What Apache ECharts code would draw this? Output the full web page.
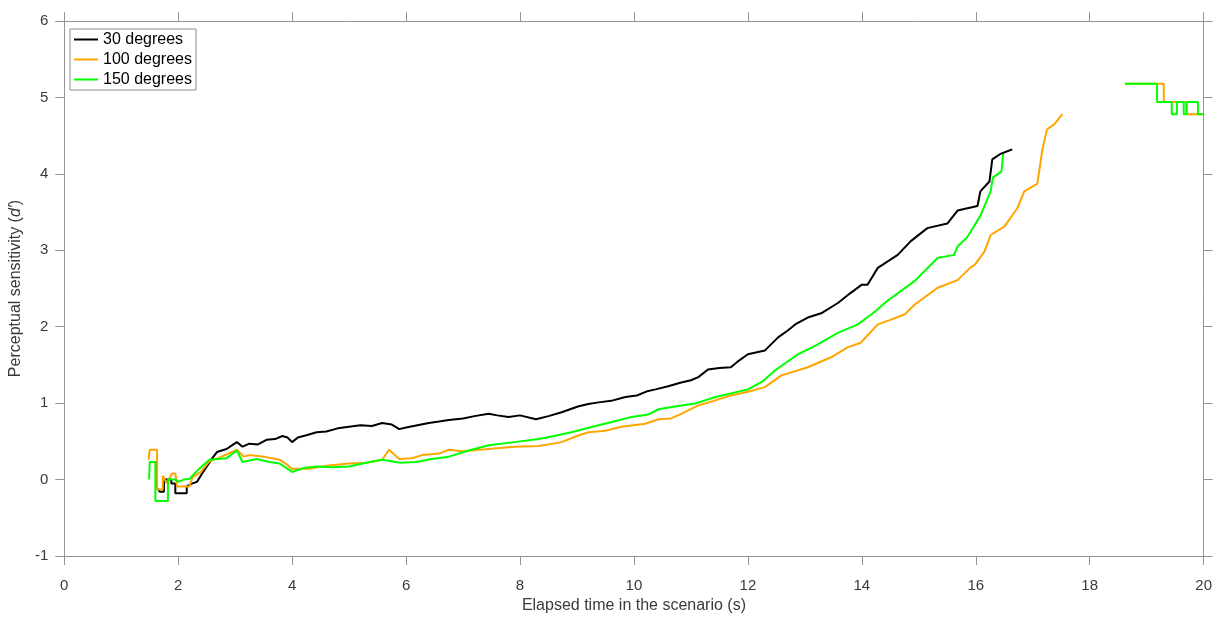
<!DOCTYPE html>
<html>
<head>
<meta charset="utf-8">
<script src="https://cdn.jsdelivr.net/npm/echarts@6/dist/echarts.min.js"></script>
<style>
  html, body { margin: 0; padding: 0; background: #fff; }
  #chart { width: 1215px; height: 619px; }
</style>
</head>
<body>
<div id="chart"></div>
<script>
// 30 degrees (black)
var t30 = [1.50,1.62,1.62,1.68,1.75,1.75,1.88,1.88,1.95,1.95,2.15,2.15,2.25,2.33,2.42,2.50,2.60,2.68,2.85,2.95,
  3.03,3.13,3.25,3.40,3.55,3.70,3.83,3.92,4.00,4.10,4.25,4.43,4.60,4.80,5.00,5.20,5.40,5.58,5.75,5.88,
  6.00,6.20,6.40,6.58,6.75,7.00,7.20,7.45,7.60,7.80,8.00,8.28,8.50,8.73,9.03,9.20,9.38,9.60,9.85,10.05,
  10.25,10.38,10.60,10.83,11.00,11.13,11.30,11.50,11.70,11.85,12.00,12.30,12.53,12.70,12.83,13.05,13.30,13.58,13.80,14.00,
  14.10,14.28,14.63,14.86,15.15,15.50,15.68,16.03,16.08,16.24,16.29,16.43,16.64];
var v30 = [0.23,0.23,-0.10,-0.16,-0.16,0.00,0.00,-0.05,-0.05,-0.18,-0.18,-0.09,-0.05,-0.03,0.08,0.17,0.28,0.36,0.40,0.45,
  0.49,0.43,0.47,0.46,0.52,0.53,0.57,0.55,0.49,0.55,0.58,0.62,0.63,0.67,0.69,0.71,0.70,0.74,0.72,0.66,
  0.68,0.71,0.74,0.76,0.78,0.80,0.83,0.86,0.84,0.82,0.84,0.79,0.83,0.88,0.96,0.99,1.01,1.03,1.08,1.10,
  1.16,1.18,1.22,1.27,1.30,1.34,1.44,1.46,1.47,1.56,1.64,1.69,1.86,1.95,2.03,2.12,2.18,2.31,2.44,2.55,
  2.55,2.77,2.94,3.12,3.29,3.35,3.52,3.58,3.77,3.90,4.19,4.26,4.32];

// 100 degrees (orange)
var t100 = [1.48,1.50,1.63,1.63,1.73,1.73,1.80,1.89,1.95,1.98,2.20,2.25,2.40,2.55,2.70,2.85,3.03,3.15,3.25,3.50,
  3.78,3.90,4.00,4.30,4.60,5.00,5.30,5.58,5.70,5.88,6.10,6.28,6.58,6.75,7.00,7.45,7.90,8.33,8.73,9.00,
  9.20,9.50,9.78,10.20,10.43,10.65,10.83,11.13,11.40,11.70,12.00,12.30,12.58,13.05,13.46,13.75,13.98,14.28,14.50,14.75,
  14.93,15.33,15.68,15.90,15.98,16.15,16.26,16.50,16.73,16.85,17.08,17.17,17.25,17.38,17.52,
  18.00,
  18.62,19.30,19.30,19.70,19.70,20.00];
var v100 = [0.26,0.39,0.39,-0.13,-0.13,0.05,-0.05,0.08,0.08,-0.09,-0.09,0.03,0.10,0.24,0.28,0.33,0.39,0.30,0.32,0.30,
  0.26,0.20,0.14,0.14,0.18,0.21,0.22,0.26,0.39,0.27,0.28,0.32,0.34,0.39,0.37,0.40,0.43,0.44,0.49,0.57,
  0.62,0.64,0.69,0.73,0.79,0.80,0.86,0.97,1.03,1.10,1.15,1.21,1.36,1.47,1.60,1.73,1.79,2.03,2.09,2.16,
  2.29,2.51,2.61,2.77,2.81,2.98,3.20,3.31,3.55,3.77,3.87,4.32,4.58,4.65,4.78,
  null,
  5.18,5.18,4.94,4.94,4.78,4.78];

// 150 degrees (green)
var t150 = [1.49,1.50,1.60,1.60,1.82,1.82,1.95,2.00,2.10,2.20,2.35,2.55,2.70,2.85,3.03,3.13,3.38,3.60,3.78,4.00,
  4.20,4.43,4.70,5.00,5.30,5.58,5.90,6.17,6.45,6.75,7.10,7.45,7.90,8.33,8.60,8.90,9.38,9.70,9.96,10.25,
  10.43,10.83,11.10,11.43,12.00,12.25,12.48,12.88,13.18,13.58,13.93,14.20,14.45,14.93,15.33,15.62,15.68,15.85,16.08,16.26,
  16.30,16.45,16.48,16.48,
  18.00,
  18.62,19.18,19.18,19.44,19.44,19.53,19.53,19.65,19.65,19.70,19.70,19.90,19.90,20.00];
var v150 = [0.00,0.23,0.23,-0.28,-0.28,0.00,0.00,-0.03,0.00,0.01,0.13,0.26,0.27,0.28,0.38,0.23,0.27,0.23,0.21,0.10,
  0.15,0.17,0.16,0.17,0.22,0.26,0.22,0.23,0.27,0.30,0.38,0.45,0.49,0.53,0.57,0.62,0.71,0.77,0.82,0.85,
  0.92,0.97,1.00,1.08,1.18,1.28,1.43,1.64,1.75,1.92,2.03,2.18,2.34,2.60,2.90,2.94,3.05,3.17,3.45,3.77,
  3.95,4.03,4.03,4.26,
  null,
  5.18,5.18,4.94,4.94,4.78,4.78,4.94,4.94,4.78,4.78,4.94,4.94,4.78,4.78];

var seriesNames = ['30 degrees', '100 degrees', '150 degrees'];
var seriesColors = ['#000000', '#ffa500', '#00ff00'];

function pairs(t, v) {
  return t.map(function (x, i) { return [x, v[i] === null ? '-' : v[i]]; });
}

var chart = echarts.init(document.getElementById('chart'));
var axisGray = '#959595';
var labelColor = '#3a3a3a';
var fontFam = 'Liberation Sans, Arial, sans-serif';

var baseX = {
  type: 'value', min: 0, max: 20, interval: 2,
  axisLine: { show: true, onZero: false, lineStyle: { color: axisGray, width: 1 } },
  axisTick: { show: true, inside: false, length: 9, lineStyle: { color: axisGray } },
  splitLine: { show: false }
};
var baseY = {
  type: 'value', min: -1, max: 6, interval: 1,
  axisLine: { show: true, onZero: false, lineStyle: { color: axisGray, width: 1 } },
  axisTick: { show: true, inside: false, length: 9, lineStyle: { color: axisGray } },
  splitLine: { show: false }
};

chart.setOption({
  animation: false,
  backgroundColor: '#fff',
  textStyle: { fontFamily: fontFam },
  grid: { left: 64, right: 8, top: 21, bottom: 58, containLabel: false },
  legend: {
    orient: 'vertical',
    left: 70, top: 29,
    data: seriesNames,
    icon: 'rect',
    itemWidth: 24, itemHeight: 2,
    itemGap: 3,
    padding: [2, 4, 2, 4],
    backgroundColor: '#fff',
    borderColor: '#8c8c8c', borderWidth: 1, borderRadius: 0,
    textStyle: { fontSize: 16, lineHeight: 17, color: '#000', fontFamily: fontFam }
  },
  xAxis: [
    Object.assign({}, baseX, {
      position: 'bottom',
      axisLabel: { show: true, fontSize: 15, color: labelColor, margin: 22, fontFamily: fontFam },
      name: 'Elapsed time in the scenario (s)',
      nameLocation: 'middle', nameGap: 42,
      nameTextStyle: { fontSize: 16, color: labelColor, fontFamily: fontFam }
    }),
    Object.assign({}, baseX, { position: 'top', axisLabel: { show: false } })
  ],
  yAxis: [
    Object.assign({}, baseY, {
      position: 'left',
      axisLabel: { show: true, fontSize: 15, color: labelColor, margin: 16, fontFamily: fontFam },
      name: 'Perceptual sensitivity ({i|d′})',
      nameLocation: 'middle', nameGap: 30, nameRotate: 90,
      nameTextStyle: {
        fontSize: 16, color: labelColor, fontFamily: fontFam,
        rich: { i: { fontStyle: 'italic', fontSize: 16, color: labelColor, fontFamily: fontFam } }
      }
    }),
    Object.assign({}, baseY, { position: 'right', axisLabel: { show: false } })
  ],
  series: [
    { name: seriesNames[0], type: 'line', data: pairs(t30, v30), color: seriesColors[0],
      showSymbol: false, connectNulls: false, lineStyle: { width: 2 }, z: 2 },
    { name: seriesNames[1], type: 'line', data: pairs(t100, v100), color: seriesColors[1],
      showSymbol: false, connectNulls: false, lineStyle: { width: 2 }, z: 3 },
    { name: seriesNames[2], type: 'line', data: pairs(t150, v150), color: seriesColors[2],
      showSymbol: false, connectNulls: false, lineStyle: { width: 2 }, z: 4 }
  ]
});
</script>
</body>
</html>
